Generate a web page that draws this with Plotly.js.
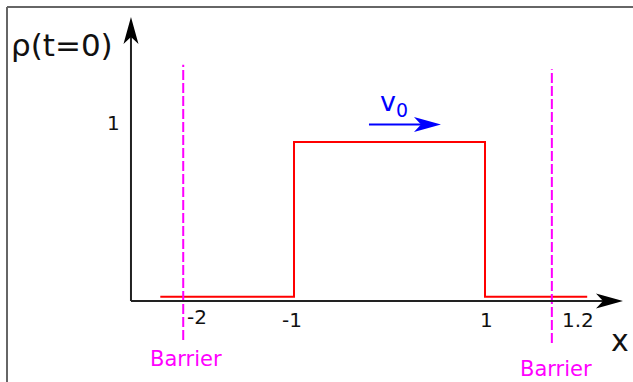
<!DOCTYPE html>
<html>
<head>
<meta charset="utf-8">
<script src="https://cdn.plot.ly/plotly-3.0.1.min.js"></script>
<style>html,body{margin:0;padding:0;background:#fff;}#chart{width:633px;height:382px;}</style>
</head>
<body>
<div id="chart"></div>
<script>
// Initial density profile rho(t=0): a unit step between x=-1 and x=1
const profileX = [-2.40, -1, -1, 1, 1, 2.07];
const profileY = [0, 0, 1, 1, 0, 0];
// Barrier positions (schematic)
const barrierX = [-2.16, 1.70];
const barrierTop = [1.50, 1.47];
const barrierBottom = [-0.28, -0.30];
const barrierLabels = ['Barrier', 'Barrier'];
// Axis tick labels and where they sit on the schematic axis
const xTickLabels = ['-2', '-1', '1', '1.2'];
const xTickAt = [-2.02, -1.02, 1.02, 1.97];
const xTickY = [-0.13, -0.15, -0.15, -0.15];
const yTickLabels = ['1'];
const yTickAt = [1];

const font = 'DejaVu Sans, sans-serif';
const axisColor = '#222222';
const origin = {x: -2.707, y: -0.028};
const xTip = 2.445, yTip = 1.808;

const traces = [];
traces.push({
  x: profileX, y: profileY, type: 'scatter', mode: 'lines',
  line: {color: '#ff0000', width: 2, shape: 'linear'}, hoverinfo: 'skip'
});
barrierX.forEach((bx, i) => {
  traces.push({
    x: [bx, bx], y: [barrierBottom[i], barrierTop[i]], type: 'scatter', mode: 'lines',
    line: {color: '#ff00ff', width: 2, dash: '10px,3px'}, hoverinfo: 'skip'
  });
});

const shapes = [
  // frame (left and top)
  {type: 'line', xref: 'paper', yref: 'paper', x0: 7/633, x1: 7/633, y0: 0, y1: 1 - 7/382, line: {color: '#666', width: 2}},
  {type: 'line', xref: 'paper', yref: 'paper', x0: 7/633, x1: 1, y0: 1 - 7/382, y1: 1 - 7/382, line: {color: '#666', width: 2}},
  // axes
  {type: 'line', xref: 'x', yref: 'y', x0: origin.x, y0: origin.y, x1: xTip - 0.2, y1: origin.y, line: {color: axisColor, width: 2}},
  {type: 'line', xref: 'x', yref: 'y', x0: origin.x, y0: origin.y, x1: origin.x, y1: yTip - 0.13, line: {color: axisColor, width: 2}},
  {type: 'path', xref: 'x', yref: 'y', xsizemode: 'pixel', ysizemode: 'pixel', xanchor: xTip, yanchor: origin.y,
   path: 'M0,0L-27,7.5L-20,0L-27,-7.5Z', fillcolor: '#000', line: {width: 0}},
  {type: 'path', xref: 'x', yref: 'y', xsizemode: 'pixel', ysizemode: 'pixel', xanchor: origin.x, yanchor: yTip,
   path: 'M0,0L7.5,-27L0,-20L-7.5,-27Z', fillcolor: '#000', line: {width: 0}},
  // velocity arrow
  {type: 'line', xref: 'x', yref: 'y', x0: -0.215, y0: 1.113, x1: 0.40, y1: 1.113, line: {color: '#0000ff', width: 2}},
  {type: 'path', xref: 'x', yref: 'y', xsizemode: 'pixel', ysizemode: 'pixel', xanchor: 0.539, yanchor: 1.113,
   path: 'M0,0L-27,7.5L-20,0L-27,-7.5Z', fillcolor: '#0000ff', line: {width: 0}}
];

const annotations = [];
xTickLabels.forEach((t, i) => {
  annotations.push({x: xTickAt[i], y: xTickY[i], xref: 'x', yref: 'y', text: t, showarrow: false,
    font: {family: font, size: 20, color: '#111'}, xanchor: 'center', yanchor: 'middle'});
});
yTickLabels.forEach((t, i) => {
  annotations.push({x: -2.895, y: yTickAt[i], yshift: 19, xref: 'x', yref: 'y', text: t, showarrow: false,
    font: {family: font, size: 20, color: '#111'}, xanchor: 'center', yanchor: 'middle'});
});
barrierX.forEach((bx, i) => {
  annotations.push({x: [-2.131, 1.743][i], y: [-0.403, -0.468][i], xref: 'x', yref: 'y', text: barrierLabels[i], showarrow: false,
    font: {family: font, size: 21, color: '#ff00ff'}, xanchor: 'center', yanchor: 'middle'});
});
annotations.push({x: -3.429, y: 1.627, xref: 'x', yref: 'y', text: 'ρ(t=0)', showarrow: false,
  font: {family: font, size: 31, color: '#111'}, xanchor: 'center', yanchor: 'middle'});
annotations.push({x: 2.414, y: -0.28, xref: 'x', yref: 'y', text: 'x', showarrow: false,
  font: {family: font, size: 30, color: '#111'}, xanchor: 'center', yanchor: 'middle'});
annotations.push({x: 0.05, y: 1.25, xref: 'x', yref: 'y', text: 'v<sub>0</sub>', showarrow: false,
  font: {family: font, size: 27, color: '#0000ff'}, xanchor: 'center', yanchor: 'middle'});

const layout = {
  width: 633, height: 382,
  margin: {l: 0, r: 0, t: 0, b: 0},
  paper_bgcolor: '#fff', plot_bgcolor: '#fff',
  showlegend: false,
  xaxis: {range: [-4.0785, 2.5497], visible: false, fixedrange: true},
  yaxis: {range: [-0.5514, 1.9179], visible: false, fixedrange: true},
  shapes: shapes,
  annotations: annotations
};

Plotly.newPlot('chart', traces, layout, {staticPlot: true, displayModeBar: false});
</script>
</body>
</html>
